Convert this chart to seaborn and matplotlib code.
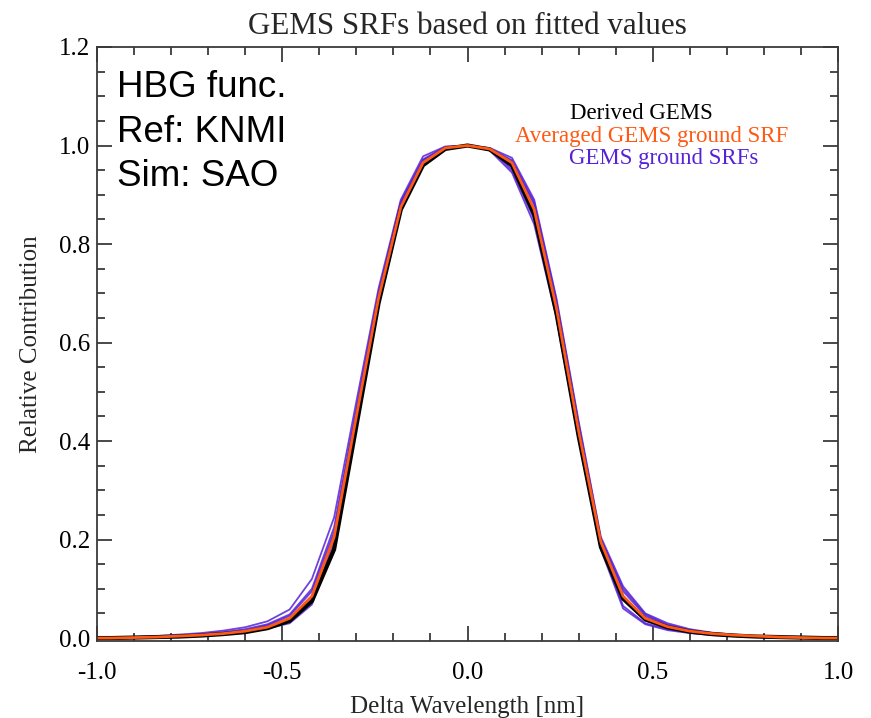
import numpy as np
import pandas as pd
import matplotlib
matplotlib.use("Agg")
import matplotlib.pyplot as plt
import seaborn as sns
from matplotlib.ticker import MultipleLocator

# ---- data ----
delta_wl = [-1.02, -0.96, -0.90, -0.84, -0.78, -0.72, -0.66, -0.60, -0.54, -0.48,
            -0.42, -0.36, -0.30, -0.24, -0.18, -0.12, -0.06, 0.00, 0.06, 0.12,
            0.18, 0.24, 0.30, 0.36, 0.42, 0.48, 0.54, 0.60, 0.66, 0.72,
            0.78, 0.84, 0.90, 0.96, 1.02]

derived_gems = [0.000, 0.000, 0.001, 0.002, 0.003, 0.005, 0.008, 0.012, 0.020, 0.035,
                0.075, 0.180, 0.430, 0.680, 0.870, 0.960, 0.993, 1.000, 0.992, 0.960,
                0.860, 0.660, 0.410, 0.185, 0.080, 0.038, 0.022, 0.013, 0.008, 0.005,
                0.003, 0.002, 0.001, 0.000, 0.000]

averaged_srf = [0.000, 0.000, 0.001, 0.002, 0.004, 0.006, 0.009, 0.014, 0.022, 0.040,
                0.085, 0.205, 0.450, 0.690, 0.875, 0.965, 0.995, 1.000, 0.993, 0.965,
                0.870, 0.670, 0.420, 0.195, 0.085, 0.040, 0.023, 0.014, 0.009, 0.006,
                0.004, 0.002, 0.001, 0.000, 0.000]

ground_srf_1 = [0.000, 0.001, 0.002, 0.004, 0.007, 0.010, 0.015, 0.022, 0.034, 0.058,
                0.120, 0.245, 0.480, 0.710, 0.890, 0.978, 0.998, 1.000, 0.995, 0.975,
                0.890, 0.690, 0.440, 0.205, 0.105, 0.050, 0.030, 0.018, 0.011, 0.007,
                0.004, 0.002, 0.001, 0.000, 0.000]
ground_srf_2 = [0.000, 0.000, 0.001, 0.003, 0.005, 0.008, 0.012, 0.018, 0.028, 0.048,
                0.100, 0.225, 0.465, 0.700, 0.885, 0.972, 0.997, 1.000, 0.994, 0.968,
                0.880, 0.680, 0.430, 0.200, 0.095, 0.045, 0.026, 0.016, 0.010, 0.006,
                0.003, 0.002, 0.001, 0.000, 0.000]
ground_srf_3 = [0.000, 0.000, 0.001, 0.002, 0.004, 0.006, 0.010, 0.015, 0.024, 0.040,
                0.085, 0.210, 0.455, 0.695, 0.880, 0.968, 0.996, 1.000, 0.992, 0.955,
                0.860, 0.665, 0.420, 0.190, 0.080, 0.035, 0.020, 0.012, 0.008, 0.005,
                0.003, 0.002, 0.001, 0.000, 0.000]
ground_srf_4 = [0.000, 0.000, 0.001, 0.002, 0.003, 0.005, 0.008, 0.012, 0.020, 0.030,
                0.068, 0.190, 0.440, 0.685, 0.870, 0.960, 0.994, 1.000, 0.990, 0.945,
                0.840, 0.650, 0.405, 0.180, 0.060, 0.028, 0.016, 0.010, 0.006, 0.004,
                0.002, 0.001, 0.000, 0.000, 0.000]
ground_srf_5 = [0.000, 0.000, 0.001, 0.003, 0.005, 0.007, 0.011, 0.016, 0.026, 0.045,
                0.095, 0.215, 0.460, 0.700, 0.885, 0.970, 0.997, 1.000, 0.993, 0.950,
                0.850, 0.660, 0.415, 0.185, 0.065, 0.030, 0.018, 0.011, 0.007, 0.004,
                0.002, 0.001, 0.000, 0.000, 0.000]
ground_srf_6 = [0.000, 0.000, 0.001, 0.002, 0.004, 0.006, 0.009, 0.014, 0.022, 0.035,
                0.075, 0.200, 0.450, 0.690, 0.878, 0.965, 0.996, 1.000, 0.994, 0.970,
                0.885, 0.685, 0.435, 0.200, 0.100, 0.048, 0.027, 0.016, 0.010, 0.006,
                0.003, 0.002, 0.001, 0.000, 0.000]

ground_srfs = [ground_srf_1, ground_srf_2, ground_srf_3,
               ground_srf_4, ground_srf_5, ground_srf_6]

legend_labels = ["Derived GEMS", "Averaged GEMS ground SRF", "GEMS ground SRFs"]
title = "GEMS SRFs based on fitted values"
note_text = "HBG func.\nRef: KNMI\nSim: SAO"
x_ticks = [-1.0, -0.5, 0.0, 0.5, 1.0]
x_ticklabels = ["-1.0", "-0.5", "0.0", "0.5", "1.0"]
y_ticks = [0.0, 0.2, 0.4, 0.6, 0.8, 1.0, 1.2]
y_ticklabels = ["0.0", "0.2", "0.4", "0.6", "0.8", "1.0", "1.2"]

# ---- styling ----
sns.set_theme(style="ticks")
plt.rcParams['font.family'] = ['Liberation Serif', 'DejaVu Serif']

BLUE = "#5522d8"
ORANGE = "#ff5a14"
BLACK = "#000000"
AXCOL = "#3a3a3a"

W, H = 871, 718
L, R, T, B = 97, 838, 47, 641
fig = plt.figure(figsize=(W / 100, H / 100), dpi=100)
ax = fig.add_axes([L / W, 1 - B / H, (R - L) / W, (B - T) / H])

for srf in ground_srfs:
    df = pd.DataFrame({"x": delta_wl, "y": srf})
    sns.lineplot(data=df, x="x", y="y", ax=ax, color=BLUE, lw=1.3,
                 alpha=0.85, sort=False, estimator=None)

sns.lineplot(data=pd.DataFrame({"x": delta_wl, "y": derived_gems}), x="x", y="y",
             ax=ax, color=BLACK, lw=3.0, sort=False, estimator=None)
sns.lineplot(data=pd.DataFrame({"x": delta_wl, "y": averaged_srf}), x="x", y="y",
             ax=ax, color=ORANGE, lw=2.0, sort=False, estimator=None)

ax.set_xlim(-1.0, 1.0)
ax.set_ylim(-0.006, 1.2)
ax.set_xticks(x_ticks)
ax.set_xticklabels(x_ticklabels)
ax.set_yticks(y_ticks)
ax.set_yticklabels(y_ticklabels)
ax.xaxis.set_minor_locator(MultipleLocator(0.1))
ax.yaxis.set_minor_locator(MultipleLocator(0.05))

ax.tick_params(which="both", direction="in", top=True, right=True,
               colors=AXCOL, labelcolor="black", labelsize=18, width=1.3)
ax.tick_params(which="major", length=11)
ax.tick_params(which="minor", length=6)
ax.tick_params(axis="x", which="major", pad=15)
ax.tick_params(axis="y", which="major", pad=5)
for sp in ax.spines.values():
    sp.set_visible(True)
    sp.set_color(AXCOL)
    sp.set_linewidth(1.3)

ax.set_xlabel("Delta Wavelength [nm]", fontsize=18, labelpad=9)
ax.set_ylabel("Relative Contribution", fontsize=18, labelpad=12)
ax.set_title(title, fontsize=22.3, pad=9)

def ax_pos(px, py):
    return (px - L) / (R - L), 1 - (py - T) / (B - T)

for (cx, cy), lab, col in zip([(641, 114), (652, 137), (664, 159)],
                              legend_labels, [BLACK, ORANGE, BLUE]):
    ax.text(*ax_pos(cx, cy), lab, transform=ax.transAxes, ha="center",
            va="center", fontsize=16.5, color=col)

ax.text(*ax_pos(117, 70), note_text, transform=ax.transAxes, ha="left", va="top",
        fontsize=26.5, family=["Liberation Sans", "DejaVu Sans"], linespacing=1.36,
        color="black")

fig.savefig("out.png", dpi=100)
